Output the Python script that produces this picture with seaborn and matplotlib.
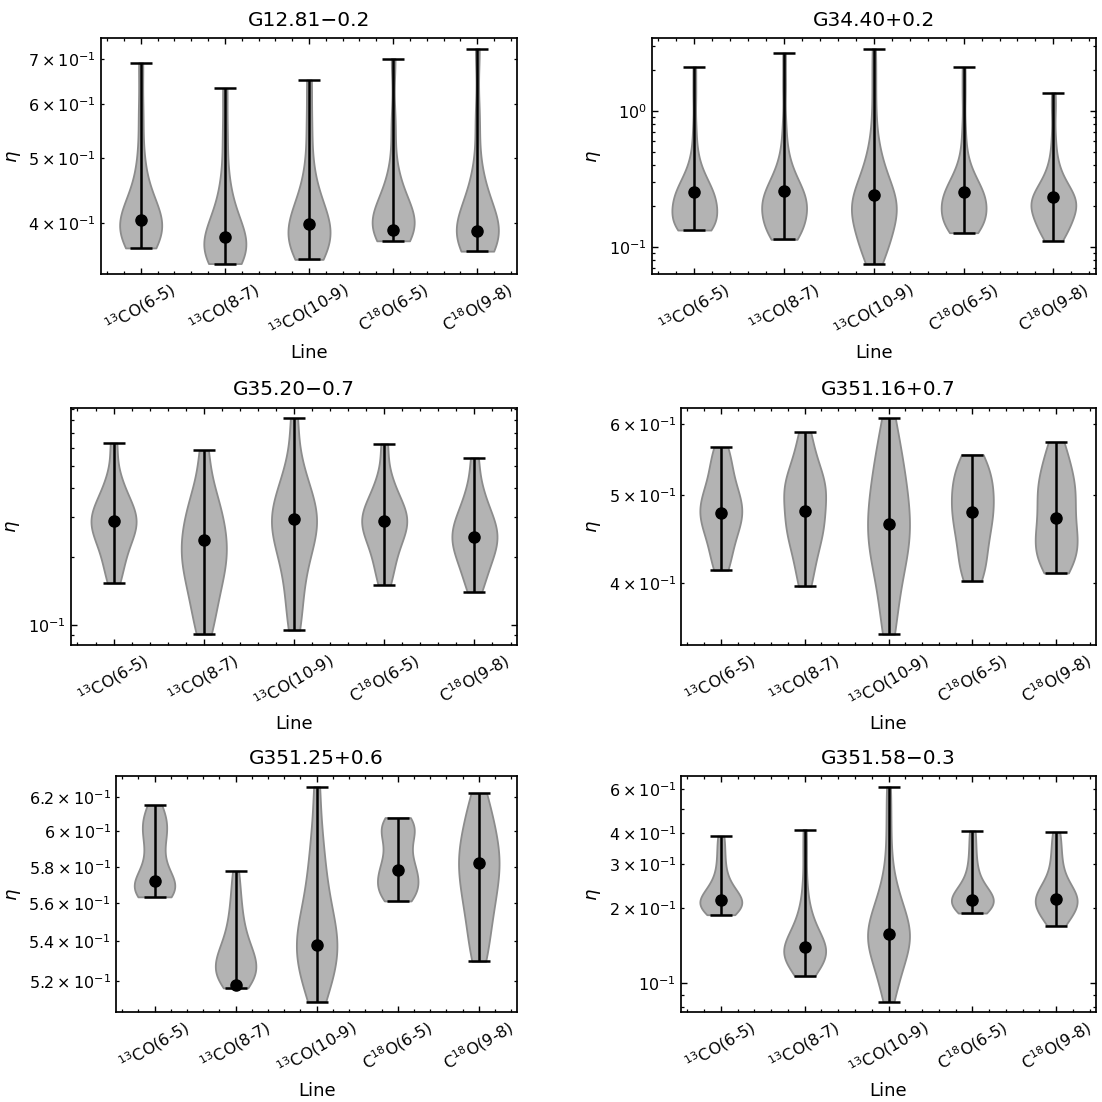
import numpy as np
import pandas as pd
import matplotlib
matplotlib.use("Agg")
import matplotlib.pyplot as plt
from matplotlib.ticker import AutoMinorLocator
import seaborn as sns

# Spectral lines (x categories)
lines = [r"$^{13}$CO(6-5)", r"$^{13}$CO(8-7)", r"$^{13}$CO(10-9)",
         r"C$^{18}$O(6-5)", r"C$^{18}$O(9-8)"]

# Source names (panel titles)
sources = ["G12.81\u22120.2", "G34.40+0.2", "G35.20\u22120.7",
           "G351.16+0.7", "G351.25+0.6", "G351.58\u22120.3"]

# eta samples per line, one list of lists per source
g12_eta = [
    [0.368, 0.372, 0.377, 0.382, 0.387, 0.392, 0.397, 0.401, 0.404, 0.409, 0.416, 0.425, 0.438, 0.458, 0.50, 0.58, 0.690],
    [0.349, 0.351, 0.355, 0.359, 0.363, 0.367, 0.371, 0.376, 0.382, 0.388, 0.395, 0.404, 0.416, 0.435, 0.47, 0.54, 0.633],
    [0.354, 0.358, 0.364, 0.370, 0.376, 0.382, 0.387, 0.393, 0.399, 0.405, 0.412, 0.421, 0.434, 0.452, 0.49, 0.56, 0.651],
    [0.377, 0.380, 0.383, 0.387, 0.391, 0.395, 0.399, 0.403, 0.407, 0.412, 0.418, 0.426, 0.437, 0.452, 0.48, 0.56, 0.700],
    [0.364, 0.367, 0.371, 0.375, 0.379, 0.383, 0.388, 0.393, 0.398, 0.404, 0.411, 0.420, 0.432, 0.450, 0.48, 0.57, 0.724],
]
g34_eta = [
    [0.133, 0.133, 0.134, 0.135, 0.136, 0.138, 0.141, 0.145, 0.15, 0.155, 0.16, 0.166, 0.172, 0.178, 0.184, 0.19, 0.196,
     0.202, 0.208, 0.214, 0.22, 0.226, 0.233, 0.24, 0.248, 0.256, 0.265, 0.275, 0.287, 0.30, 0.317, 0.34, 0.37, 0.42,
     0.52, 0.75, 1.3, 2.096],
    [0.1137, 0.115, 0.117, 0.12, 0.124, 0.129, 0.134, 0.14, 0.146, 0.152, 0.158, 0.164, 0.17, 0.176, 0.182, 0.188,
     0.194, 0.2, 0.206, 0.212, 0.218, 0.224, 0.231, 0.238, 0.246, 0.255, 0.265, 0.276, 0.29, 0.305, 0.325, 0.35,
     0.385, 0.44, 0.55, 0.8, 1.5, 2.651],
    [0.0755, 0.08, 0.086, 0.093, 0.1, 0.107, 0.114, 0.121, 0.128, 0.135, 0.142, 0.149, 0.156, 0.163, 0.17, 0.177,
     0.184, 0.191, 0.198, 0.205, 0.213, 0.221, 0.23, 0.24, 0.25, 0.262, 0.275, 0.29, 0.31, 0.335, 0.365, 0.40, 0.45,
     0.52, 0.65, 1.0, 1.7, 2.851],
    [0.1272, 0.128, 0.13, 0.133, 0.137, 0.141, 0.146, 0.151, 0.156, 0.161, 0.166, 0.172, 0.178, 0.184, 0.19, 0.196,
     0.202, 0.208, 0.214, 0.22, 0.226, 0.233, 0.24, 0.248, 0.256, 0.265, 0.275, 0.287, 0.30, 0.317, 0.34, 0.37, 0.42,
     0.52, 0.75, 1.3, 2.083],
    [0.1112, 0.115, 0.12, 0.126, 0.132, 0.138, 0.144, 0.15, 0.156, 0.162, 0.168, 0.174, 0.18, 0.185, 0.19, 0.195,
     0.2, 0.205, 0.21, 0.215, 0.22, 0.226, 0.232, 0.239, 0.246, 0.254, 0.263, 0.274, 0.287, 0.303, 0.325, 0.355,
     0.40, 0.48, 0.65, 1.0, 1.353],
]
g35_eta = [
    [0.1531, 0.175, 0.195, 0.215, 0.233, 0.248, 0.26, 0.272, 0.284, 0.296, 0.308, 0.322, 0.34, 0.365, 0.40, 0.46, 0.634],
    [0.091, 0.108, 0.125, 0.142, 0.158, 0.172, 0.186, 0.20, 0.215, 0.232, 0.25, 0.27, 0.295, 0.325, 0.36, 0.42, 0.588],
    [0.0947, 0.118, 0.145, 0.172, 0.198, 0.22, 0.24, 0.258, 0.275, 0.292, 0.31, 0.33, 0.355, 0.39, 0.44, 0.53, 0.8137],
    [0.1505, 0.172, 0.193, 0.213, 0.231, 0.247, 0.26, 0.272, 0.284, 0.296, 0.308, 0.322, 0.34, 0.365, 0.40, 0.46, 0.629],
    [0.1398, 0.158, 0.175, 0.19, 0.203, 0.215, 0.226, 0.237, 0.248, 0.26, 0.273, 0.288, 0.306, 0.33, 0.365, 0.42, 0.546],
]
g351_16_eta = [
    [0.4134, 0.425, 0.437, 0.448, 0.457, 0.464, 0.47, 0.476, 0.482, 0.488, 0.494, 0.501, 0.51, 0.521, 0.535, 0.55, 0.565],
    [0.3969, 0.415, 0.43, 0.443, 0.453, 0.46, 0.467, 0.476, 0.487, 0.497, 0.505, 0.511, 0.518, 0.527, 0.54, 0.56, 0.587],
    [0.3514, 0.375, 0.395, 0.412, 0.425, 0.436, 0.446, 0.456, 0.466, 0.477, 0.489, 0.502, 0.516, 0.532, 0.55, 0.573, 0.608],
    [0.4023, 0.412, 0.423, 0.434, 0.445, 0.455, 0.464, 0.472, 0.48, 0.488, 0.496, 0.505, 0.513, 0.522, 0.532, 0.543, 0.5546],
    [0.4106, 0.419, 0.427, 0.434, 0.441, 0.448, 0.456, 0.465, 0.475, 0.486, 0.496, 0.505, 0.514, 0.524, 0.537, 0.552, 0.5727],
]
g351_25_eta = [
    [0.5635, 0.5645, 0.5655, 0.567, 0.5685, 0.570, 0.572, 0.5745, 0.578, 0.583, 0.589, 0.595, 0.599, 0.6025, 0.606, 0.610, 0.6151],
    [0.5165, 0.518, 0.5195, 0.521, 0.5225, 0.524, 0.5255, 0.527, 0.5285, 0.530, 0.5315, 0.533, 0.535, 0.537, 0.5395,
     0.5425, 0.546, 0.550, 0.555, 0.561, 0.568, 0.5775],
    [0.5098, 0.515, 0.52, 0.524, 0.528, 0.531, 0.534, 0.537, 0.54, 0.543, 0.546, 0.55, 0.554, 0.559, 0.565, 0.572,
     0.58, 0.59, 0.603, 0.6261],
    [0.5613, 0.563, 0.5655, 0.568, 0.5705, 0.573, 0.5755, 0.578, 0.581, 0.5845, 0.589, 0.594, 0.598, 0.601, 0.6035, 0.606, 0.6079],
    [0.5298, 0.538, 0.546, 0.553, 0.559, 0.564, 0.569, 0.574, 0.578, 0.582, 0.586, 0.59, 0.595, 0.60, 0.606, 0.613, 0.6222],
]
g351_58_eta = [
    [0.1883, 0.192, 0.196, 0.2, 0.204, 0.208, 0.212, 0.216, 0.22, 0.225, 0.231, 0.24, 0.252, 0.27, 0.3, 0.34, 0.3887],
    [0.107, 0.11, 0.113, 0.116, 0.119, 0.122, 0.124, 0.126, 0.128, 0.13, 0.132, 0.134, 0.136, 0.138, 0.14, 0.142,
     0.145, 0.148, 0.151, 0.155, 0.159, 0.164, 0.17, 0.177, 0.186, 0.2, 0.22, 0.26, 0.33, 0.4132],
    [0.0845, 0.092, 0.1, 0.107, 0.113, 0.119, 0.124, 0.129, 0.134, 0.138, 0.142, 0.146, 0.15, 0.154, 0.158, 0.162,
     0.166, 0.171, 0.176, 0.182, 0.189, 0.197, 0.206, 0.217, 0.23, 0.25, 0.28, 0.35, 0.46, 0.6132],
    [0.1912, 0.195, 0.199, 0.203, 0.207, 0.211, 0.215, 0.219, 0.223, 0.228, 0.234, 0.243, 0.255, 0.275, 0.305, 0.35, 0.4082],
    [0.1703, 0.18, 0.188, 0.195, 0.201, 0.207, 0.212, 0.217, 0.222, 0.228, 0.235, 0.245, 0.258, 0.278, 0.31, 0.35, 0.4033],
]

# Median eta per line for each source
g12_median = [0.404, 0.382, 0.399, 0.391, 0.390]
g34_median = [0.251, 0.256, 0.240, 0.251, 0.231]
g35_median = [0.287, 0.238, 0.293, 0.287, 0.245]
g351_16_median = [0.478, 0.481, 0.465, 0.480, 0.472]
g351_25_median = [0.572, 0.518, 0.538, 0.578, 0.582]
g351_58_median = [0.215, 0.140, 0.158, 0.216, 0.217]

samples = [g12_eta, g34_eta, g35_eta, g351_16_eta, g351_25_eta, g351_58_eta]
medians = [g12_median, g34_median, g35_median, g351_16_median, g351_25_median, g351_58_median]

sns.set_theme(style="ticks")
plt.rcParams["font.family"] = ["DejaVu Sans"]
plt.rcParams["mathtext.fontset"] = "dejavusans"
for key in ["text.color", "axes.labelcolor", "xtick.color", "ytick.color", "axes.edgecolor"]:
    plt.rcParams[key] = "black"
plt.rcParams["axes.linewidth"] = 1.25

W = H = 1102
fig = plt.figure(figsize=(W / 100, H / 100), dpi=100)

# axes boxes in pixels: left, top, right, bottom
boxes = [
    (100.7, 38.0, 517.3, 274.3),
    (651.7, 38.0, 1096.0, 274.3),
    (70.7, 407.7, 517.3, 645.0),
    (681.0, 407.7, 1096.0, 645.0),
    (116.0, 776.0, 517.3, 1012.3),
    (681.0, 776.0, 1096.0, 1012.3),
]

for src, samp, med, (l, t, r, b) in zip(sources, samples, medians, boxes):
    ax = fig.add_axes([l / W, 1 - b / H, (r - l) / W, (b - t) / H])
    df = pd.DataFrame({
        "Line": [ln for ln, s in zip(lines, samp) for _ in s],
        "eta": [v for s in samp for v in s],
    })
    sns.violinplot(data=df, x="Line", y="eta", order=lines, ax=ax,
                   color="#b3b3b3", saturation=1, linecolor="#8c8c8c",
                   linewidth=1.3, width=0.5, cut=0, inner=None,
                   density_norm="width", log_scale=True, bw_adjust=0.8)
    lo = np.array([min(s) for s in samp])
    hi = np.array([max(s) for s in samp])
    m = np.array(med)
    ax.errorbar(np.arange(len(lines)), m, yerr=[m - lo, hi - m], fmt="o",
                color="black", ms=8, elinewidth=1.8, capsize=8, capthick=1.8,
                zorder=5)
    ax.set_title(src, fontsize=14.5, pad=9)
    ax.set_xlabel("Line", fontsize=13, labelpad=2)
    ax.set_ylabel(r"$\eta$", fontsize=13)
    ax.xaxis.set_minor_locator(AutoMinorLocator())
    ax.tick_params(which="both", direction="in", top=True, right=True,
                   labelsize=11.5)
    ax.tick_params(which="major", length=4, width=1)
    ax.tick_params(which="minor", length=2.2, width=0.9)
    ax.tick_params(axis="x", which="major", labelrotation=30)
    for lab in ax.get_xticklabels():
        lab.set_ha("center")

fig.savefig("out.png", dpi=100)
